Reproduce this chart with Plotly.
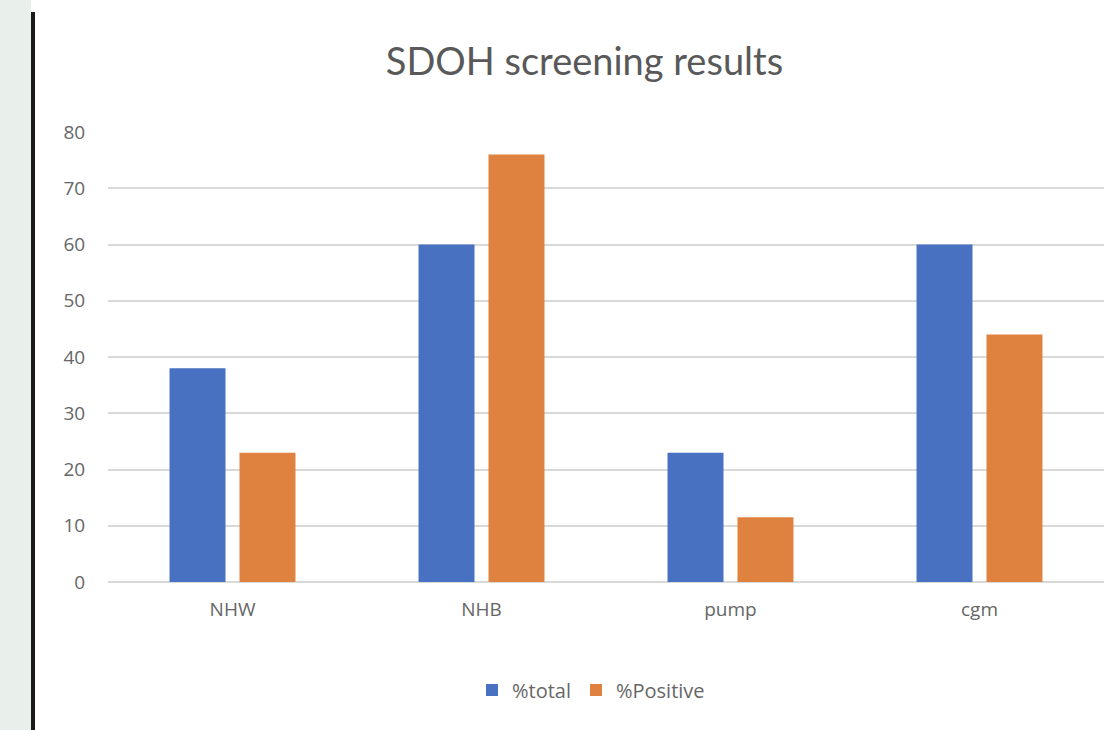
import plotly.graph_objects as go

categories = ["NHW", "NHB", "pump", "cgm"]
pct_total = [38, 60, 23, 60]
pct_positive = [23, 76, 11.5, 44]
series_names = ["%total", "%Positive"]
y_ticks = [0, 10, 20, 30, 40, 50, 60, 70, 80]

W, H = 1107, 730
L, R, T, B = 108, 3, 132, 148
pw, ph = W - L - R, H - T - B

def px_x(p):
    return (p - L) / pw

def px_y(p):
    return (H - B - p) / ph

fig = go.Figure()
fig.add_trace(go.Bar(x=categories, y=pct_total, name=series_names[0],
                     marker=dict(color="#4872C1", line=dict(width=0))))
fig.add_trace(go.Bar(x=categories, y=pct_positive, name=series_names[1],
                     marker=dict(color="#E0823F", line=dict(width=0))))

title_font = "Lato, 'Open Sans', sans-serif"
tick_font = "'Open Sans', Lato, sans-serif"
fig.update_layout(
    width=W, height=H,
    margin=dict(l=L, r=R, t=T, b=B),
    paper_bgcolor="white", plot_bgcolor="white",
    barmode="group", bargap=0.438, bargroupgap=0.2,
    title=dict(text="SDOH screening results", xref="container", x=0.528,
               xanchor="center", yref="container", y=1 - 62 / H, yanchor="middle",
               font=dict(family=title_font, size=38, color="#595959")),
    xaxis=dict(showgrid=False, showline=False, zeroline=False,
               tickfont=dict(family=tick_font, size=19, color="#666666"),
               ticks="outside", ticklen=10, tickcolor="rgba(0,0,0,0)"),
    yaxis=dict(range=[0, 80], tickvals=y_ticks, showgrid=True,
               gridcolor="#d9d9d9", gridwidth=1.5, zeroline=True,
               zerolinecolor="#d9d9d9", zerolinewidth=1.5, showline=False,
               tickfont=dict(family=tick_font, size=19, color="#666666"),
               ticks="outside", ticklen=18, tickcolor="rgba(0,0,0,0)"),
    legend=dict(orientation="h", x=px_x(591), xanchor="center",
                y=px_y(690), yanchor="middle",
                font=dict(family=tick_font, size=20, color="#666666"),
                itemwidth=30, traceorder="normal"),
    shapes=[
        dict(type="rect", xref="paper", yref="paper", x0=px_x(0), x1=px_x(31),
             y0=px_y(H), y1=px_y(0), fillcolor="#e9efeb", line=dict(width=0),
             layer="below"),
        dict(type="rect", xref="paper", yref="paper", x0=px_x(31), x1=px_x(35),
             y0=px_y(H), y1=px_y(12), fillcolor="#1c1a18", line=dict(width=0)),
    ],
)

fig.write_html("out.html", config={"displayModeBar": False},
               post_script="document.body.style.margin='0';")
